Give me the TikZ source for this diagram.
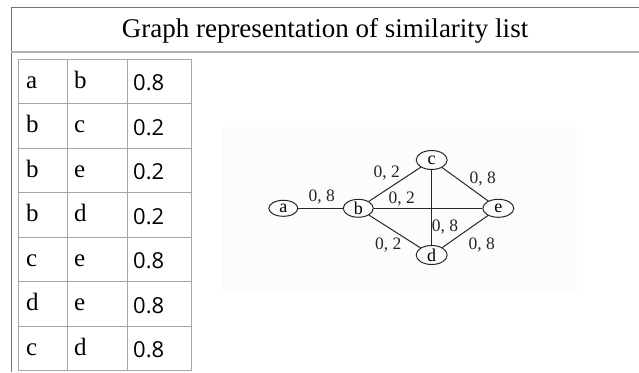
\documentclass[tikz,border=0pt]{standalone}
\usepackage{fontspec}
\setmainfont{Liberation Serif}
\newfontfamily\numfont{Open Sans}
\usetikzlibrary{shapes.geometric}
\begin{document}
\begin{tikzpicture}[x=1pt,y=-1pt,
  frameline/.style={draw=black!55, line width=1pt},
  gridline/.style={draw=black!35, line width=0.9pt},
  vtx/.style={ellipse, draw=black!85, line width=1pt, minimum width=30pt, minimum height=18pt, inner sep=0pt, font=\fontsize{18}{18}\selectfont},
  wt/.style={font=\fontsize{17.5}{17.5}\selectfont, inner sep=0pt, text=black!85},
  edgeline/.style={draw=black!85, line width=1pt},
  cellL/.style={anchor=base west, inner sep=0pt, font=\fontsize{25}{25}\selectfont},
  cellN/.style={anchor=base west, inner sep=0pt, font=\numfont\fontsize{22}{22}\selectfont}
]
\useasboundingbox (0,0) rectangle (639,372);
\fill[white] (0,0) rectangle (639,372);
% outer frame
\draw[frameline] (639,7) -- (11,7) -- (11,372);
\draw[draw=black!30, line width=2pt] (11,52) -- (639,52);
\node[anchor=base, font=\fontsize{27}{27}\selectfont, inner sep=0pt] (title) at (325,37) {Graph representation of similarity list};
% table grid
\draw[gridline] (18,59) rectangle (191,370.5);
\draw[gridline] (67,59) -- (67,370.5);
\draw[gridline] (127,59) -- (127,370.5);
\foreach \k in {1,...,6} {\draw[gridline] (18,59+44.5*\k) -- (191,59+44.5*\k);}
% table cells
\foreach \p/\q/\w [count=\i from 0] in {a/b/0.8, b/c/0.2, b/e/0.2, b/d/0.2, c/e/0.8, d/e/0.8, c/d/0.8} {
  \node[cellL] (r\i c1) at (26,59+44.5*\i+29) {\p};
  \node[cellL] (r\i c2) at (74,59+44.5*\i+29) {\q};
  \node[cellN] (r\i c3) at (133,59+44.5*\i+31.5) {\w};
}
% graph background
\fill[black!1] (222,127) rectangle (577,290);
% vertices
\node[vtx, minimum width=29pt, minimum height=16pt] (a) at (283.3,208.3) {a};
\node[vtx, minimum height=17pt] (b) at (358.3,208.3) {b};
\node[vtx, minimum width=31pt, minimum height=19pt] (c) at (431.7,160) {c};
\node[vtx, minimum width=31pt, minimum height=19pt] (d) at (431.7,255) {d};
\node[vtx, minimum width=31pt] (e) at (498.3,208.3) {e};
% edges
\draw[edgeline] (a) -- (b);
\draw[edgeline] (b) -- (c);
\draw[edgeline] (b) -- (e);
\draw[edgeline] (b) -- (d);
\draw[edgeline] (c) -- (e);
\draw[edgeline] (d) -- (e);
\draw[edgeline] (c) -- (d);
% weights
\node[wt] (wab) at (321.7,197) {0, 8};
\node[wt] (wbc) at (386.7,173.3) {0, 2};
\node[wt] (wbe) at (401.7,199.3) {0, 2};
\node[wt] (wce) at (482.7,179) {0, 8};
\node[wt] (wcd) at (445,226.7) {0, 8};
\node[wt] (wbd) at (388.3,245) {0, 2};
\node[wt] (wde) at (481.7,245) {0, 8};
\end{tikzpicture}
\end{document}
